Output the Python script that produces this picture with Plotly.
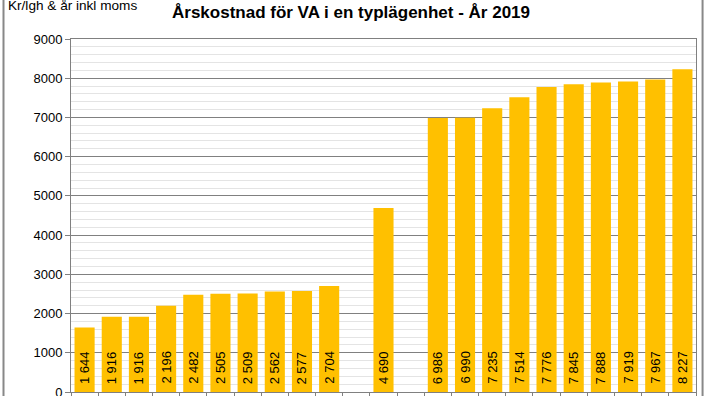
import plotly.graph_objects as go

categories = [f"K{i}" for i in range(1, 24)]
values = [1644, 1916, 1916, 2196, 2482, 2505, 2509, 2562, 2577, 2704, None,
          4690, None, 6986, 6990, 7235, 7514, 7776, 7845, 7888, 7919, 7967, 8227]
y_ticks = list(range(0, 9001, 1000))
title_text = "Årskostnad för VA i en typlägenhet - År 2019"
y_label = "Kr/lgh & år inkl moms"

labels = ["" if v is None else f"{v:,}".replace(",", " ") for v in values]

fig = go.Figure(go.Bar(
    x=categories, y=values,
    marker=dict(color="#FFC000", line=dict(width=0)),
    hoverinfo="skip",
))

for cat, v, lab in zip(categories, values, labels):
    if v is None:
        continue
    fig.add_annotation(x=cat, y=0, text=lab, textangle=-90, showarrow=False,
                       xanchor="center", yanchor="bottom", yshift=6,
                       font=dict(family="Liberation Sans, Arial", size=13, color="black"))

fig.update_layout(
    width=705, height=396,
    margin=dict(l=71, r=9, t=39, b=4, autoexpand=False),
    paper_bgcolor="white", plot_bgcolor="white",
    bargap=0.26, showlegend=False,
    font=dict(family="Liberation Sans, Arial", color="black"),
    title=dict(text="<b>" + title_text + "</b>", x=0.448, xanchor="center",
               xref="paper", y=1 - 12 / 396, yref="container", yanchor="middle",
               automargin=False, font=dict(size=17, color="black")),
)
fig.add_annotation(text=y_label, xref="paper", yref="paper", x=-0.1035, y=1.094,
                   xanchor="left", yanchor="middle", showarrow=False,
                   font=dict(size=13.6, color="black"))

fig.update_xaxes(type="category", showticklabels=False, ticks="outside",
                 tickson="boundaries", ticklen=5, tickcolor="#808080",
                 showline=True, linecolor="#808080", linewidth=1, mirror=True,
                 showgrid=False, automargin=False)
fig.update_yaxes(range=[0, 9000], tickvals=y_ticks, ticks="outside", ticklen=5,
                 tickcolor="#808080", tickfont=dict(size=13, color="black"),
                 ticklabeloverflow="allow",
                 showline=True, linecolor="#808080", linewidth=1, mirror=True,
                 showgrid=True, gridcolor="#808080", gridwidth=1,
                 minor=dict(dtick=200, showgrid=True, gridcolor="#e4e4e4", gridwidth=1),
                 zeroline=False, automargin=False)

# outer chart frame lines (left/right edges)
fig.add_shape(type="line", xref="paper", yref="paper", x0=-0.108, x1=-0.108, y0=-0.05, y1=1.15,
              layer="above", line=dict(color="#888888", width=2))
fig.add_shape(type="line", xref="paper", yref="paper", x0=1.0105, x1=1.0105, y0=-0.05, y1=1.15,
              layer="above", line=dict(color="#888888", width=2))

fig.write_html("out.html", config={"displayModeBar": False},
               post_script="document.body.style.margin='0';")
